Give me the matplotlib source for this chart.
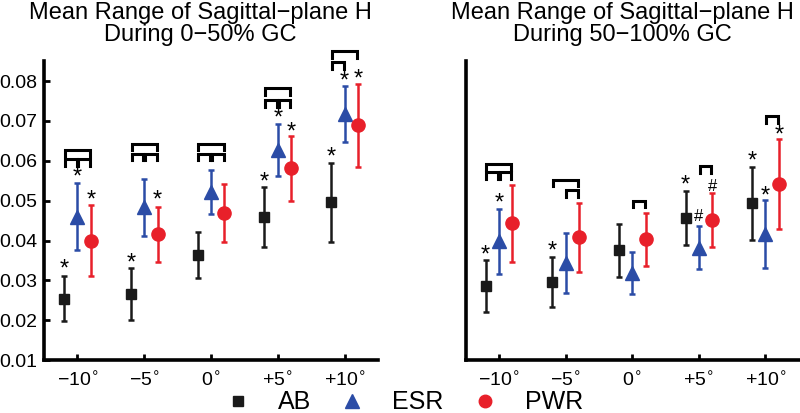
"""
Mean range of sagittal-plane H, two panels (0-50% GC and 50-100% GC).
"""

from matplotlib import pyplot as plt
from matplotlib.lines import Line2D
import numpy as np

plt.rcParams['font.family'] = ['Liberation Sans', 'DejaVu Sans']

tick_labels = ['\u221210$^{\\circ}$', '\u22125$^{\\circ}$', '0$^{\\circ}$',
               '+5$^{\\circ}$', '+10$^{\\circ}$']
groups = ['AB', 'ESR', 'PWR']

# left panel, 0-50% GC
early_ab = [0.0254, 0.0266, 0.0364, 0.0460, 0.0496]
early_ab_sd = [0.0057, 0.0066, 0.0058, 0.0075, 0.0099]
early_esr = [0.0460, 0.0483, 0.0522, 0.0627, 0.0717]
early_esr_sd = [0.0085, 0.0072, 0.0056, 0.0066, 0.0071]
early_pwr = [0.0399, 0.0416, 0.0469, 0.0581, 0.0689]
early_pwr_sd = [0.0089, 0.0069, 0.0072, 0.0082, 0.0104]

# right panel, 50-100% GC
late_ab = [0.0285, 0.0296, 0.0375, 0.0457, 0.0493]
late_ab_sd = [0.0065, 0.0063, 0.0066, 0.0068, 0.0091]
late_esr = [0.0398, 0.0343, 0.0318, 0.0382, 0.0416]
late_esr_sd = [0.0081, 0.0075, 0.0053, 0.0054, 0.0085]
late_pwr = [0.0443, 0.0408, 0.0403, 0.0452, 0.0542]
late_pwr_sd = [0.0096, 0.0086, 0.0067, 0.0068, 0.0112]

# significance brackets: (slope index, group a, group b, height)
early_brackets = [(0, 0, 1, 0.0605), (0, 1, 2, 0.0605), (0, 0, 2, 0.0628),
                  (1, 0, 1, 0.0618), (1, 1, 2, 0.0618), (1, 0, 2, 0.0643),
                  (2, 0, 1, 0.0618), (2, 1, 2, 0.0618), (2, 0, 2, 0.0643),
                  (3, 0, 1, 0.0752), (3, 1, 2, 0.0752), (3, 0, 2, 0.0783),
                  (4, 0, 1, 0.0848), (4, 0, 2, 0.0875)]
late_brackets = [(0, 0, 1, 0.0571), (0, 1, 2, 0.0571), (0, 0, 2, 0.0593),
                 (1, 1, 2, 0.0527), (1, 0, 2, 0.0553),
                 (2, 1, 2, 0.0500),
                 (3, 1, 2, 0.0586),
                 (4, 1, 2, 0.0713)]

# symbols over error bars: (slope index, group, height of symbol centre, symbol)
early_marks = [(0, 0, 0.0336, '*'), (0, 1, 0.0568, '*'), (0, 2, 0.0511, '*'),
               (1, 0, 0.0352, '*'), (1, 2, 0.0510, '*'),
               (3, 0, 0.0556, '*'), (3, 1, 0.0715, '*'), (3, 2, 0.0680, '*'),
               (4, 0, 0.0618, '*'), (4, 1, 0.0808, '*'), (4, 2, 0.0814, '*')]
late_marks = [(0, 0, 0.0371, '*'), (0, 1, 0.0503, '*'),
              (1, 0, 0.0381, '*'),
              (3, 0, 0.0548, '*'), (3, 1, 0.0463, '#'), (3, 2, 0.0540, '#'),
              (4, 0, 0.0608, '*'), (4, 1, 0.0521, '*'), (4, 2, 0.0673, '*')]

colors = ['#1a1a1a', '#2b4ca6', '#e8202a']
markers = ['s', '^', 'o']
msizes = [7.5, 10, 9.5]
offsets = [-0.2, 0.0, 0.2]


def draw_panel(ax, series, brackets, marks, show_y):
    x = np.arange(1, len(tick_labels) + 1)
    for k, (mean, sd) in enumerate(series):
        ax.errorbar(x + offsets[k], mean, yerr=sd, fmt=markers[k], color=colors[k],
                    ms=msizes[k], elinewidth=1.8, capsize=2.2, capthick=1.8,
                    clip_on=False, zorder=3)

    leg = 0.0017
    for i, a, b, h in brackets:
        xa = x[i] + offsets[a] + 0.012
        xb = x[i] + offsets[b] - 0.012
        ax.plot([xa, xa, xb, xb], [h - leg, h, h, h - leg], color='black',
                lw=2.2, solid_joinstyle='miter', clip_on=False)

    # glyph centres sit above the baseline, so shift down by that amount
    for i, k, h, sym in marks:
        size = 17 if sym == '*' else 12
        drop = 0.42 * size if sym == '*' else 0.36 * size
        ax.annotate(sym, (x[i] + offsets[k], h), xytext=(0, -drop),
                    textcoords='offset points', ha='center', va='baseline',
                    fontsize=size, color='black', annotation_clip=False)

    ax.set_xlim(0.5, 5.5)
    ax.set_ylim(0.01, 0.085)
    ax.set_xticks(x)
    ax.set_xticklabels(tick_labels)
    for side in ['top', 'right']:
        ax.spines[side].set_visible(False)
    for side in ['left', 'bottom']:
        ax.spines[side].set_linewidth(2.6)
    ax.tick_params(direction='in', length=4, width=2, labelsize=14, pad=8)
    if show_y:
        ax.set_yticks([0.01, 0.02, 0.03, 0.04, 0.05, 0.06, 0.07, 0.08])
        ax.set_yticklabels(['0.01', '0.02', '0.03', '0.04', '0.05', '0.06', '0.07', '0.08'])
        ax.tick_params(axis='y', pad=5)
    else:
        ax.set_yticks([])


fig = plt.figure(figsize=(8, 4.13), dpi=100)
ax_early = fig.add_axes([0.055, 0.128, 0.4175, 0.724])
ax_late = fig.add_axes([0.582, 0.128, 0.4165, 0.724])

draw_panel(ax_early, [(early_ab, early_ab_sd), (early_esr, early_esr_sd), (early_pwr, early_pwr_sd)],
           early_brackets, early_marks, True)
draw_panel(ax_late, [(late_ab, late_ab_sd), (late_esr, late_esr_sd), (late_pwr, late_pwr_sd)],
           late_brackets, late_marks, False)

fig.text(0.25, 0.995, 'Mean Range of Sagittal\u2212plane H\nDuring 0\u221250% GC',
         ha='center', va='top', fontsize=17, linespacing=1.0)
fig.text(0.7775, 0.995, 'Mean Range of Sagittal\u2212plane H\nDuring 50\u2212100% GC',
         ha='center', va='top', fontsize=17, linespacing=1.0)

handles = [Line2D([], [], ls='none', marker=markers[k], color=colors[k],
                  ms=[7, 9.5, 9][k]) for k in range(3)]
fig.legend(handles, groups, loc='center', bbox_to_anchor=(0.505, 0.026), ncol=3,
           frameon=False, fontsize=18, handletextpad=1.1, columnspacing=1.15,
           borderpad=0, handlelength=1.0)

plt.savefig('out.png', dpi=100)
